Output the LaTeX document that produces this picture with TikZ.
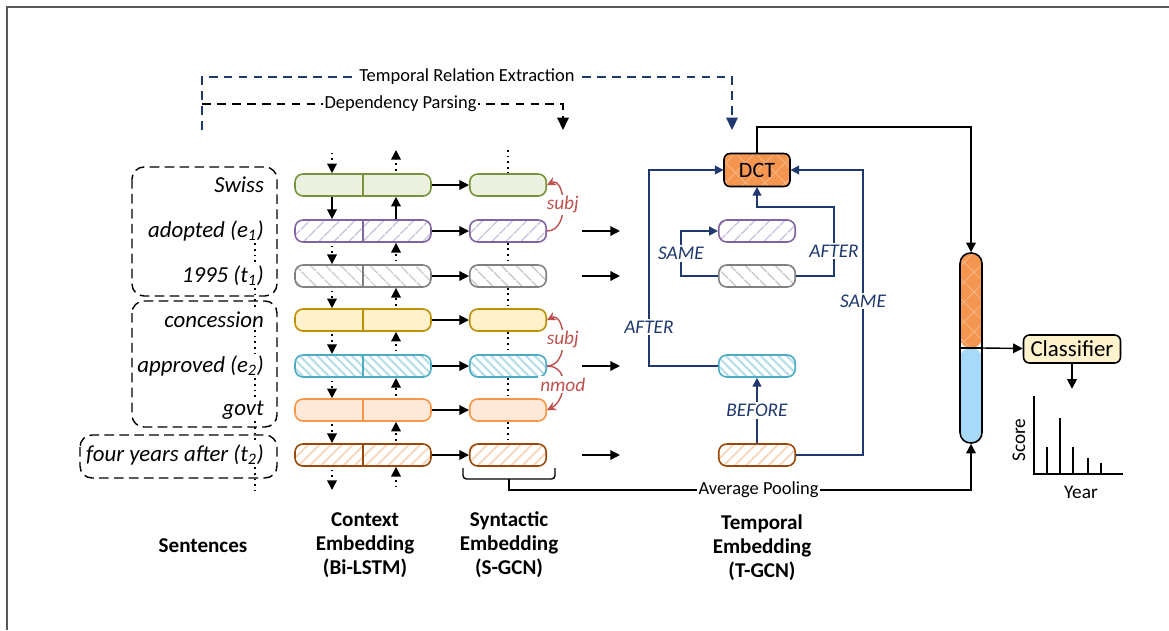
\documentclass[tikz,border=0pt]{standalone}
\usepackage{fontspec}
\setmainfont{Carlito}
\usetikzlibrary{arrows.meta,patterns.meta,calc}

\definecolor{grnD}{RGB}{119,147,60}
\definecolor{grnL}{RGB}{235,241,222}
\definecolor{purD}{RGB}{128,100,162}
\definecolor{purL}{RGB}{210,200,225}
\definecolor{gryD}{RGB}{128,128,128}
\definecolor{gryL}{RGB}{205,205,205}
\definecolor{ylwD}{RGB}{191,144,0}
\definecolor{ylwL}{RGB}{255,242,204}
\definecolor{cynD}{RGB}{75,172,198}
\definecolor{cynL}{RGB}{183,222,232}
\definecolor{pchD}{RGB}{247,150,70}
\definecolor{pchL}{RGB}{253,233,217}
\definecolor{brnD}{RGB}{152,72,7}
\definecolor{brnL}{RGB}{248,212,185}
\definecolor{orng}{RGB}{244,150,80}
\definecolor{orngL}{RGB}{248,180,130}
\definecolor{barblue}{RGB}{166,218,248}
\definecolor{clsfill}{RGB}{255,242,204}
\definecolor{navy}{RGB}{31,56,110}
\definecolor{deprd}{RGB}{192,80,77}

\begin{document}
\begin{tikzpicture}[x=0.02cm,y=-0.02cm,font=\fontsize{10.5}{12.6}\selectfont,
    arr/.style={-{Triangle[length=5.5pt,width=5.5pt]},line width=0.8pt},
    dotarr/.style={arr,dash pattern=on 1pt off 2.2pt,shorten <=1.5pt},
    dots/.style={line width=1pt,dash pattern=on 1pt off 2.2pt},
    box/.style={line width=0.9pt,rounded corners=1.6mm,minimum height=4.4mm,inner sep=0pt},
    ctx/.style={box,minimum width=27.2mm},
    syn/.style={box,minimum width=15.3mm},
    grn/.style={draw=grnD,fill=grnL},
    pur/.style={draw=purD,pattern={Lines[angle=45,distance=6.5pt,line width=1pt]},pattern color=purL},
    gry/.style={draw=gryD,pattern={Lines[angle=-45,distance=6.5pt,line width=1pt]},pattern color=gryL},
    ylw/.style={draw=ylwD,fill=ylwL},
    cyn/.style={draw=cynD,pattern={Lines[angle=-45,distance=3.5pt,line width=1.2pt]},pattern color=cynL},
    pch/.style={draw=pchD,fill=pchL},
    brn/.style={draw=brnD,pattern={Lines[angle=45,distance=4.5pt,line width=1pt]},pattern color=brnL},
    word/.style={anchor=east,inner sep=1pt,font=\fontsize{13}{15}\selectfont\itshape},
    grp/.style={draw,line width=0.8pt,dash pattern=on 5.5pt off 3pt,rounded corners=2.4mm},
    title/.style={align=center,font=\fontsize{12}{13.6}\selectfont\bfseries},
    dep/.style={deprd,line width=0.8pt,-{Stealth[length=5pt,width=5pt]}},
    deplbl/.style={fill=white,inner sep=1pt,text=deprd,font=\fontsize{11}{13}\selectfont\itshape},
    rel/.style={navy,line width=1pt,-{Triangle[length=5pt,width=5pt]}},
    rellbl/.style={fill=white,inner sep=1pt,text=navy,font=\fontsize{11}{13}\selectfont\itshape},
    step lbl/.style={fill=white,inner sep=1pt,text=black},
    dct/.style={draw,line width=0.9pt,rounded corners=1.2mm,minimum width=13.2mm,minimum height=6.6mm,
      preaction={fill=orng},pattern={Hatch[angle=45,distance=8pt,line width=0.5pt]},pattern color=orngL,
      font=\fontsize{12.5}{14}\selectfont},
    bar/.style={draw,line width=0.9pt,minimum width=4.4mm,minimum height=38mm,inner sep=0pt,rounded corners=2.1mm,
      path picture={
        \fill[orng] (path picture bounding box.north west) rectangle (path picture bounding box.east);
        \fill[pattern={Hatch[angle=45,distance=8pt,line width=0.5pt]},pattern color=orngL]
          (path picture bounding box.north west) rectangle (path picture bounding box.east);
        \fill[barblue] (path picture bounding box.west) rectangle (path picture bounding box.south east);}},
    cls/.style={draw,line width=0.9pt,fill=clsfill,rounded corners=1.2mm,minimum width=19.4mm,minimum height=5.6mm,
      inner sep=1pt,font=\fontsize{13}{15}\selectfont}]
  \useasboundingbox (0,0) rectangle (1169,630);
  \draw[gray!70!black,line width=1.1pt] (7,630) -- (7,7) -- (1169,7);

  \coordinate (top) at (0,150);
  \coordinate (bot) at (0,490);
  \coordinate (sx) at (255,0);
  \coordinate (dn) at (332,0);
  \coordinate (up) at (396,0);

  \node[word] (s1) at (266,185) {Swiss};
  \node[word] (s2) at (266,231) {adopted (e\textsubscript{1})};
  \node[word] (s3) at (266,276) {1995 (t\textsubscript{1})};
  \node[word] (s4) at (266,320) {concession};
  \node[word] (s5) at (266,366) {approved (e\textsubscript{2})};
  \node[word] (s6) at (266,410) {govt};
  \node[word] (s7) at (266,455) {four years after (t\textsubscript{2})};
  \draw[grp] (132,167) rectangle (277,296);
  \draw[grp] (132,301) rectangle (277,427);
  \draw[grp] (80,435) rectangle (277,478);
  \draw[dots] (sx |- s2.south) -- (sx |- s3.north);
  \draw[dots] (sx |- s3.south) -- (sx |- s4.north);
  \draw[dots] (sx |- s4.south) -- (sx |- s5.north);
  \draw[dots] (sx |- s5.south) -- (sx |- s6.north);
  \draw[dots] (sx |- s6.south) -- (sx |- s7.north);
  \draw[dots] (sx |- s7.south) -- (sx |- bot);

  \node[ctx,grn] (c1) at (363,185) {};
  \node[ctx,pur] (c2) at (363,231) {};
  \node[ctx,gry] (c3) at (363,276) {};
  \node[ctx,ylw] (c4) at (363,320) {};
  \node[ctx,cyn] (c5) at (363,366) {};
  \node[ctx,pch] (c6) at (363,410) {};
  \node[ctx,brn] (c7) at (363,455) {};
  \draw[grnD,line width=0.9pt] (c1.north) -- (c1.south);
  \draw[purD,line width=0.9pt] (c2.north) -- (c2.south);
  \draw[gryD,line width=0.9pt] (c3.north) -- (c3.south);
  \draw[ylwD,line width=0.9pt] (c4.north) -- (c4.south);
  \draw[cynD,line width=0.9pt] (c5.north) -- (c5.south);
  \draw[pchD,line width=0.9pt] (c6.north) -- (c6.south);
  \draw[brnD,line width=0.9pt] (c7.north) -- (c7.south);

  \node[syn,grn] (g1) at (508,185) {};
  \node[syn,pur] (g2) at (508,231) {};
  \node[syn,gry] (g3) at (508,276) {};
  \node[syn,ylw] (g4) at (508,320) {};
  \node[syn,cyn] (g5) at (508,366) {};
  \node[syn,pch] (g6) at (508,410) {};
  \node[syn,brn] (g7) at (508,455) {};

  \draw[dotarr] (dn |- top) -- (dn |- c1.north);
  \draw[dotarr] (up |- c1.north) -- (up |- top);
  \draw[arr] (dn |- c1.south) -- (dn |- c2.north);
  \draw[arr] (up |- c2.north) -- (up |- c1.south);
  \draw[dotarr] (dn |- c2.south) -- (dn |- c3.north);
  \draw[dotarr] (up |- c3.north) -- (up |- c2.south);
  \draw[dotarr] (dn |- c3.south) -- (dn |- c4.north);
  \draw[dotarr] (up |- c4.north) -- (up |- c3.south);
  \draw[dotarr] (dn |- c4.south) -- (dn |- c5.north);
  \draw[dotarr] (up |- c5.north) -- (up |- c4.south);
  \draw[dotarr] (dn |- c5.south) -- (dn |- c6.north);
  \draw[dotarr] (up |- c6.north) -- (up |- c5.south);
  \draw[dotarr] (dn |- c6.south) -- (dn |- c7.north);
  \draw[dotarr] (up |- c7.north) -- (up |- c6.south);
  \draw[dotarr] (dn |- c7.south) -- (dn |- bot);
  \draw[dotarr] (up |- bot) -- (up |- c7.south);

  \draw[arr] (c1) -- (g1);
  \draw[arr] (c2) -- (g2);
  \draw[arr] (c3) -- (g3);
  \draw[arr] (c4) -- (g4);
  \draw[arr] (c5) -- (g5);
  \draw[arr] (c6) -- (g6);
  \draw[arr] (c7) -- (g7);

  \draw[dots] (g1 |- top) -- (g1.north);
  \draw[dots] (g2.south) -- (g3.north);
  \draw[dots] (g3.south) -- (g4.north);
  \draw[dots] (g4.south) -- (g5.north);
  \draw[dots] (g5.south) -- (g6.north);
  \draw[dots] (g6.south) -- (g7.north);

  \draw[dep] (g2.east) .. controls +(24,0) and +(18,-9) .. node[deplbl]{subj} (g1.east);
  \draw[dep] (g5.east) .. controls +(24,0) and +(18,-9) .. node[deplbl]{subj} (g4.east);
  \draw[dep] (g5.east) .. controls +(24,0) and +(18,-9) .. node[deplbl]{nmod} (g6.east);

  \node[dct] (dct) at (757,170) {DCT};
  \node[syn,pur] (t2) at (757,231) {};
  \node[syn,gry] (t3) at (757,276) {};
  \node[syn,cyn] (t5) at (757,366) {};
  \node[syn,brn] (t7) at (757,455) {};

  \draw[arr] ($(g2.east)+(35,0)$) -- ($(t2.west)+(-98,0)$);
  \draw[arr] ($(g3.east)+(35,0)$) -- ($(t3.west)+(-98,0)$);
  \draw[arr] ($(g5.east)+(35,0)$) -- ($(t5.west)+(-98,0)$);
  \draw[arr] ($(g7.east)+(35,0)$) -- ($(t7.west)+(-98,0)$);

  \draw[rel] (t5.west) -- ++(-69,0) |- node[pos=.1,rellbl]{AFTER} (dct.west);
  \draw[rel] (t7.east) -- ++(67,0) |- node[pos=.27,rellbl]{SAME} (dct.east);
  \draw[rel] (t7) -- node[rellbl]{BEFORE} (t5);
  \draw[rel] (t3.west) -- ++(-37,0) |- node[pos=.25,rellbl]{SAME} (t2.west);
  \draw[rel] (t3.east) -- ++(38,0) |- node[pos=.18,rellbl]{AFTER} ($(dct.south)+(0,20)$) -- (dct.south);

  \coordinate (trefrom) at (202,130);
  \coordinate (treto) at (732,130);
  \coordinate (dpto) at (563,130);
  \draw[navy,line width=1pt,dash pattern=on 5pt off 3.5pt,-{Triangle[length=7pt,width=6.5pt]}]
    (trefrom) -- (202,77) -- node[step lbl]{Temporal Relation Extraction} (732,77) -- (treto);
  \draw[line width=0.8pt,dash pattern=on 5pt off 3.5pt,-{Triangle[length=7pt,width=6.5pt]}]
    (202,104) -- node[pos=.55,step lbl]{Dependency Parsing} (563,104) -- (dpto);

  \node[bar] (vec) at (971,348) {};
  \draw[line width=0.9pt] (vec.west) -- (vec.east);
  \draw[arr] (dct.north) -- ++(0,-26) -| (vec.north);
  \draw[line width=0.8pt,rounded corners=2pt] (463,468) -- (463,479) -- (555,479) -- (555,468);
  \coordinate (brk) at (509,479);
  \draw[arr] (brk) -- ++(0,11) -| node[pos=.27,step lbl]{Average Pooling} (vec.south);

  \node[cls] (cls) at (1072,349) {Classifier};
  \draw[arr] (vec.east) -- (cls);
  \draw[arr] (cls.south) -- ++(0,25);
  \draw[line width=0.9pt] (1034,396) -- (1034,474) -- (1123,474);
  \draw[line width=0.9pt] (1047,474) -- (1047,447) (1060,474) -- (1060,418) (1073,474) -- (1073,447)
    (1088,474) -- (1088,458) (1101,474) -- (1101,463);
  \node[rotate=90,font=\fontsize{11}{13}\selectfont] (score) at (1019,440) {Score};
  \node[font=\fontsize{11}{13}\selectfont] (year) at (1081,492) {Year};

  \node[title] (tsent) at (203,546) {Sentences};
  \node[title] (tctx) at (365,545) {Context\\Embedding\\(Bi-LSTM)};
  \node[title] (tsyn) at (509,545) {Syntactic\\Embedding\\(S-GCN)};
  \node[title] (ttmp) at (762,548) {Temporal\\Embedding\\(T-GCN)};
\end{tikzpicture}
\end{document}
